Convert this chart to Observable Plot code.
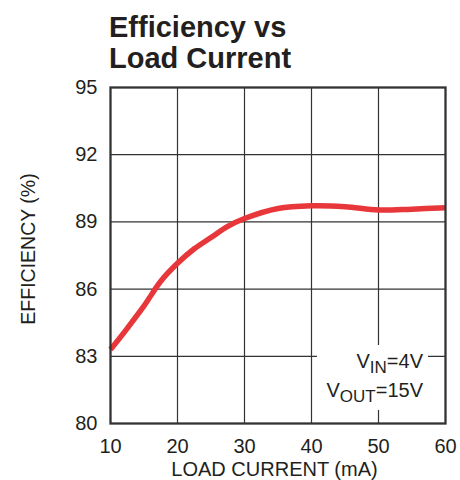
<!DOCTYPE html>
<html><head><meta charset="utf-8">
<script src="https://cdn.jsdelivr.net/npm/d3@7"></script>
<script src="https://cdn.jsdelivr.net/npm/@observablehq/plot@0.6"></script>
<style>
html,body{margin:0;padding:0;background:#fff;}
#wrap{position:relative;width:460px;height:480px;overflow:hidden;font-family:"Liberation Sans",Arial,sans-serif;color:#231f20;}
#title{position:absolute;left:109px;top:11.5px;font-weight:bold;font-size:29px;line-height:31px;z-index:2;}
#chart svg{display:block;}
</style></head>
<body>
<div id="wrap">
  <div id="title"></div>
  <div id="chart"></div>
</div>
<script>
const titleLines = ["Efficiency vs", "Load Current"];
const loadCurrent = [10, 12.5, 15, 17.5, 20, 22.5, 25, 27.5, 30, 35, 40, 45, 50, 55, 60];
const efficiency = [83.3, 84.25, 85.25, 86.35, 87.15, 87.8, 88.3, 88.8, 89.15, 89.6, 89.72, 89.68, 89.53, 89.57, 89.63];
const xTicks = [10, 20, 30, 40, 50, 60];
const yTicks = [80, 83, 86, 89, 92, 95];
const xLabel = "LOAD CURRENT (mA)";
const yLabel = "EFFICIENCY (%)";
const noteLines = [["V", "IN", "=4V"], ["V", "OUT", "=15V"]];

document.getElementById("title").innerHTML = titleLines.join("<br>");

const data = loadCurrent.map((x, i) => ({x, y: efficiency[i]}));
const ink = "#231f20";

const annotation = (index, scales, values, dims) => {
  const right = dims.width - dims.marginRight;
  const bottom = dims.height - dims.marginBottom;
  const g = d3.create("svg:g");
  g.append("rect").attr("x", right - 128).attr("y", bottom - 78)
    .attr("width", 111).attr("height", 65).attr("fill", "#fff");
  noteLines.forEach((parts, i) => {
    const t = g.append("text").attr("x", right - 22).attr("y", bottom - 55 + i * 29)
      .attr("text-anchor", "end").attr("font-size", 20).attr("fill", ink)
      .attr("font-family", "Liberation Sans, Arial, sans-serif");
    t.append("tspan").text(parts[0]);
    t.append("tspan").attr("dy", 5).attr("font-size", 17).text(parts[1]);
    t.append("tspan").attr("dy", -5).attr("font-size", 20).text(parts[2]);
  });
  return g.node();
};

const chart = Plot.plot({
  width: 460,
  height: 480,
  marginTop: 87,
  marginBottom: 57,
  marginLeft: 110,
  marginRight: 15,
  style: {fontFamily: "Liberation Sans, Arial, sans-serif", fontSize: "20px", color: ink, background: "#fff"},
  x: {domain: [10, 60]},
  y: {domain: [80, 95]},
  marks: [
    Plot.ruleX(xTicks.slice(1, -1), {stroke: "#333", strokeWidth: 1.2}),
    Plot.ruleY(yTicks.slice(1, -1), {stroke: "#333", strokeWidth: 1.2}),
    annotation,
    Plot.line(data, {x: "x", y: "y", stroke: "#e8373a", strokeWidth: 5.5, curve: "catmull-rom", strokeLinecap: "butt"}),
    Plot.frame({stroke: "#333", strokeWidth: 2.3}),
    Plot.axisX({ticks: xTicks, tickSize: 0, tickPadding: 15, fontSize: 20, label: null}),
    Plot.axisY({ticks: yTicks, tickSize: 0, tickPadding: 13, fontSize: 20, label: null}),
    Plot.text([yLabel], {frameAnchor: "left", rotate: -90, dx: -81.5, dy: -6.5, fontSize: 19.5, textAnchor: "middle", fill: ink}),
    Plot.text([xLabel], {frameAnchor: "bottom", dx: -3.5, dy: 46, fontSize: 20, textAnchor: "middle", lineAnchor: "middle", fill: ink})
  ]
});
document.getElementById("chart").appendChild(chart);
</script>
</body></html>
